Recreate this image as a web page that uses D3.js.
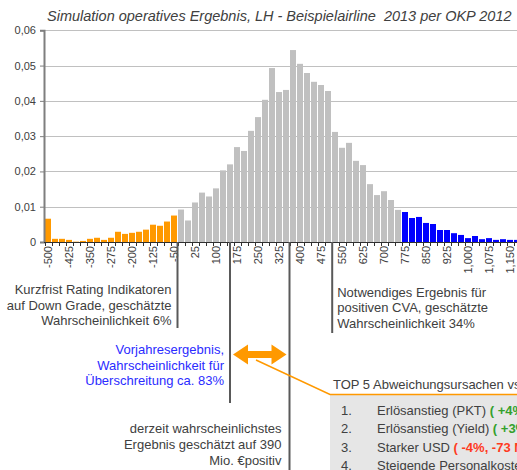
<!DOCTYPE html>
<html>
<head>
<meta charset="utf-8">
<title>Simulation operatives Ergebnis</title>
<script src="https://cdn.jsdelivr.net/npm/d3@7"></script>
<style>
  html, body { margin: 0; padding: 0; background: #fff; overflow: hidden; }
  svg { display: block; font-family: "Liberation Sans", Arial, sans-serif; }
</style>
</head>
<body>
<svg id="chart" width="517" height="470"></svg>
<script>
// categories: operating result in Mio. EUR
var categories = [-500, -475, -450, -425, -400, -375, -350, -325, -300, -275, -250, -225, -200, -175, -150, -125, -100, -75, -50,
  -25, 0, 25, 50, 75, 100, 125, 150, 175, 200, 225, 250, 275, 300, 325, 350, 375, 400, 425, 450, 475, 500, 525, 550, 575, 600, 625, 650, 675, 700, 725, 750,
  775, 800, 825, 850, 875, 900, 925, 950, 975, 1000, 1025, 1050, 1075, 1100, 1125, 1150, 1175];

// probability per class, three segments
var downgradeCats = [-500, -475, -450, -425, -400, -375, -350, -325, -300, -275, -250, -225, -200, -175, -150, -125, -100, -75, -50];
var downgradeValues = [0.0066, 0.0009, 0.0009, 0.0006, 0.0001, 0.0003, 0.0009, 0.0012, 0.0006, 0.0012, 0.0029, 0.0023, 0.0026, 0.0029, 0.0035, 0.0049, 0.0046, 0.0058, 0.0075];

var centralCats = [-25, 0, 25, 50, 75, 100, 125, 150, 175, 200, 225, 250, 275, 300, 325, 350, 375, 400, 425, 450, 475, 500, 525, 550, 575, 600, 625, 650, 675, 700, 725, 750];
var centralValues = [0.0092, 0.0061, 0.0112, 0.0140, 0.0129, 0.0152, 0.0203, 0.0220, 0.0269, 0.0258, 0.0315, 0.0354, 0.0403, 0.0493, 0.0425, 0.0431,
  0.0544, 0.0505, 0.0479, 0.0454, 0.0445, 0.0428, 0.0312, 0.0267, 0.0281, 0.0230, 0.0218, 0.0164, 0.0133, 0.0144, 0.0119, 0.0091];

var upsideCats = [775, 800, 825, 850, 875, 900, 925, 950, 975, 1000, 1025, 1050, 1075, 1100, 1125, 1150, 1175];
var upsideValues = [0.0085, 0.0068, 0.0071, 0.0054, 0.0051, 0.0034, 0.0034, 0.0025, 0.0020, 0.0011, 0.0017, 0.0008, 0.0011, 0.0006, 0.0008, 0.0006, 0.0006];

var xTickLabels = [-500, -425, -350, -275, -200, -125, -50, 25, 100, 175, 250, 325, 400, 475, 550, 625, 700, 775, 850, 925, 1000, 1075, 1150];
var yTicks = [0, 0.01, 0.02, 0.03, 0.04, 0.05, 0.06];

// vertical marker lines (result values)
var markerValues = [-37.5, 150, 362.5, 515];

var svg = d3.select("#chart");
var textCol = "#404040";
var axisCol = "#7f7f7f";
var fmt = d3.formatLocale({ decimal: ".", thousands: ",", grouping: [3], currency: ["", ""], minus: "-" }).format(",");

var x = d3.scaleBand()
  .domain(categories)
  .range([44, 44 + 7 * (categories.length + 1 / 7)])
  .paddingInner(1 / 7)
  .paddingOuter(1 / 7);
var bw = x.bandwidth();
var xv = d3.scaleLinear()
  .domain([categories[0], categories[categories.length - 1]])
  .range([x(categories[0]) + bw / 2, x(categories[categories.length - 1]) + bw / 2]);
var y = d3.scaleLinear().domain([0, 0.06]).range([242, 30.3]);

// title
svg.append("text")
  .attr("x", 47).attr("y", 21)
  .style("font-size", "14.5px").style("font-style", "italic").style("fill", textCol)
  .text("Simulation operatives Ergebnis, LH - Beispielairline\u00a0 2013 per OKP 2012");

// gridlines
svg.append("g").selectAll("line").data(yTicks.slice(1)).join("line")
  .attr("x1", 44).attr("x2", 517)
  .attr("y1", d => Math.round(y(d)) + 0.5).attr("y2", d => Math.round(y(d)) + 0.5)
  .style("stroke", "#c0c0c0").style("stroke-width", 1);

// bars
function drawBars(cats, vals, col) {
  svg.append("g").selectAll("rect").data(cats).join("rect")
    .attr("x", d => x(d))
    .attr("width", bw)
    .attr("y", (d, i) => y(vals[i]))
    .attr("height", (d, i) => y(0) - y(vals[i]))
    .style("fill", col);
}
drawBars(downgradeCats, downgradeValues, "#ff9900");
drawBars(centralCats, centralValues, "#c0c0c0");
drawBars(upsideCats, upsideValues, "#0000ff");

// y axis
var yAxis = svg.append("g")
  .attr("transform", "translate(44,0)")
  .call(d3.axisLeft(y).tickValues(yTicks).tickSize(4).tickPadding(4)
    .tickFormat(d => d === 0 ? "0" : d3.format(".2f")(d).replace(".", ",")));
yAxis.attr("font-family", null);
yAxis.select(".domain").style("stroke", axisCol).style("stroke-width", 2);
yAxis.selectAll(".tick line").style("stroke", axisCol);
yAxis.selectAll("text").style("font-size", "11px").style("fill", textCol);

// x axis
var xg = svg.append("g");
xg.append("line")
  .attr("x1", 44).attr("x2", 517).attr("y1", 242.5).attr("y2", 242.5)
  .style("stroke", "#303030").style("stroke-width", 1);
xg.selectAll("line.tk").data(categories).join("line")
  .attr("class", "tk")
  .attr("x1", d => Math.round(x(d) - (x.step() - bw) / 2) + 0.5)
  .attr("x2", d => Math.round(x(d) - (x.step() - bw) / 2) + 0.5)
  .attr("y1", 242).attr("y2", 246)
  .style("stroke", "#303030").style("stroke-width", 1);
xg.selectAll("text").data(xTickLabels).join("text")
  .attr("transform", d => "translate(" + (x(d) + bw / 2) + ",246) rotate(-90)")
  .attr("dy", "0.35em")
  .attr("text-anchor", "end")
  .style("font-size", "11px").style("fill", textCol)
  .text(d => fmt(d));

// marker lines
var markerBottoms = [328, 403, 470, 333];
svg.append("g").selectAll("line").data(markerValues).join("line")
  .attr("x1", d => xv(d)).attr("x2", d => xv(d))
  .attr("y1", 242).attr("y2", (d, i) => markerBottoms[i])
  .style("stroke", "#595959").style("stroke-width", 2);

// annotation text blocks
function textBlock(lines, xPos, yPos, anchor, col) {
  var t = svg.append("text")
    .attr("text-anchor", anchor)
    .style("font-size", "13px").style("fill", col);
  lines.forEach(function (l, i) {
    t.append("tspan").attr("x", xPos).attr("y", yPos + i * 15.7).text(l);
  });
  return t;
}
textBlock(["Kurzfrist Rating Indikatoren", "auf Down Grade, geschätzte", "Wahrscheinlichkeit 6%"],
  xv(markerValues[0]) - 6, 294, "end", textCol);
textBlock(["Notwendiges Ergebnis für", "positiven CVA, geschätzte", "Wahrscheinlichkeit 34%"],
  xv(markerValues[3]) + 5, 296.5, "start", textCol);
textBlock(["Vorjahresergebnis,", "Wahrscheinlichkeit für", "Überschreitung ca. 83%"],
  xv(markerValues[1]) - 6, 354, "end", "#2b2bff");
textBlock(["derzeit wahrscheinlichstes", "Ergebnis geschätzt auf 390", "Mio. \u20acpositiv"],
  xv(markerValues[2]) - 8, 433.3, "end", textCol);

// orange double arrow between previous year and most likely result
var ax0 = xv(markerValues[1]) + 3, ax1 = xv(markerValues[2]) - 3, ay = 354.5;
var head = 15, hh = 10, sh = 3.5;
svg.append("path")
  .attr("d", "M" + ax0 + "," + ay +
    "L" + (ax0 + head) + "," + (ay - hh) + "L" + (ax0 + head) + "," + (ay - sh) +
    "L" + (ax1 - head) + "," + (ay - sh) + "L" + (ax1 - head) + "," + (ay - hh) +
    "L" + ax1 + "," + ay +
    "L" + (ax1 - head) + "," + (ay + hh) + "L" + (ax1 - head) + "," + (ay + sh) +
    "L" + (ax0 + head) + "," + (ay + sh) + "L" + (ax0 + head) + "," + (ay + hh) + "Z")
  .style("fill", "#ff9900");

// top-5 box (cut at the right edge, as in the source slide)
var bx = 330, by = 394.5;
svg.append("rect").attr("x", bx).attr("y", by).attr("width", 200).attr("height", 80).style("fill", "#e6e6e6");
svg.append("polyline")
  .attr("points", [[256, 360], [bx, by], [520, by]].map(p => p.join(",")).join(" "))
  .style("fill", "none").style("stroke", "#ff9900").style("stroke-width", 1.5);
svg.append("text").attr("x", bx + 3).attr("y", 389.3)
  .style("font-size", "13px").style("fill", textCol)
  .text("TOP 5 Abweichungsursachen vs. Vorjahr");

var top5Names = ["Erlösanstieg (PKT)", "Erlösanstieg (Yield)", "Starker USD", "Steigende Personalkosten"];
var top5Effects = ["( +4%, +85 Mio. € )", "( +3%, +62 Mio. € )", "( -4%, -73 Mio. € )", "( -2%, -45 Mio. € )"];
var top5Cols = ["#33a02c", "#33a02c", "#ff3b1f", "#ff3b1f"];
top5Names.forEach(function (n, i) {
  var yy = 415 + i * 18.3;
  svg.append("text").attr("x", bx + 11).attr("y", yy)
    .style("font-size", "13px").style("fill", textCol).text((i + 1) + ".");
  var t = svg.append("text").attr("x", bx + 47).attr("y", yy)
    .style("font-size", "13px").style("fill", textCol);
  t.append("tspan").text(n + " ");
  t.append("tspan").style("fill", top5Cols[i]).style("font-weight", "bold").text(top5Effects[i]);
});
</script>
</body>
</html>
